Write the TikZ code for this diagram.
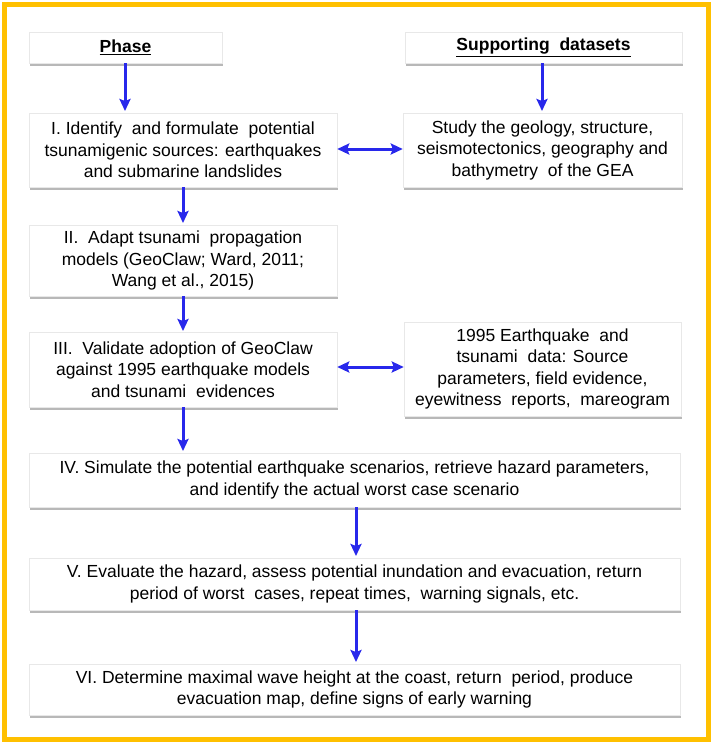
\documentclass[tikz,border=0pt]{standalone}
\usepackage{fontspec}
\setmainfont{Liberation Sans}
\usetikzlibrary{arrows.meta,shadows}
\definecolor{gold}{RGB}{255,192,0}
\definecolor{arrowblue}{RGB}{40,40,235}
\tikzset{
  box/.style={draw=gray!18, fill=white, line width=0.5pt, inner sep=0pt, align=center,
    font=\fontsize{17.5}{21.5}\selectfont,
    drop shadow={shadow xshift=1pt, shadow yshift=-2.5pt, fill=gray!70, opacity=0.8}},
  flow/.style={draw=arrowblue, line width=3pt, -{Stealth[length=12pt,width=11pt,inset=2pt]}},
  bflow/.style={draw=arrowblue, line width=3pt, {Stealth[length=12pt,width=11pt,inset=2pt]}-{Stealth[length=12pt,width=11pt,inset=2pt]}}
}
\begin{document}
\begin{tikzpicture}[x=1pt,y=-1pt]
\useasboundingbox (0,0) rectangle (713,745);
\draw[gold, line width=5pt] (4.5,4.5) rectangle (708,739);
\node[box, minimum width=193pt, minimum height=31pt] (phase) at (125.5,47.5) {\textbf{\underline{Phase}}};
\node[box, minimum width=277pt, minimum height=31pt] (supp) at (543.5,47.5) {\textbf{\underline{Supporting\ \ datasets}}};
\node[box, minimum width=308pt, minimum height=74pt] (p1) at (183,150) {I. Identify\ \ and formulate\ \ potential\\tsunamigenic sources: earthquakes\\and submarine landslides};
\node[box, minimum width=279pt, minimum height=74pt] (geo) at (542.5,150) {Study the geology, structure,\\seismotectonics, geography and\\bathymetry\ \ of the GEA};
\node[box, minimum width=308pt, minimum height=71pt] (p2) at (183,260.5) {II.\ \ Adapt tsunami\ \ propagation\\models (GeoClaw; Ward, 2011;\\Wang et al., 2015)};
\node[box, minimum width=308pt, minimum height=75pt] (p3) at (183,369.5) {III.\ \ Validate adoption of GeoClaw\\against 1995 earthquake models\\and tsunami\ \ evidences};
\node[box, minimum width=277pt, minimum height=94pt] (data) at (542.5,369) {1995 Earthquake\ \ and\\tsunami\ \ data: Source\\parameters, field evidence,\\eyewitness\ \ reports,\ \ mareogram};
\node[box, minimum width=651pt, minimum height=54pt] (p4) at (354.5,480) {IV. Simulate the potential earthquake scenarios, retrieve hazard parameters,\\and identify the actual worst case scenario};
\node[box, minimum width=651pt, minimum height=52pt] (p5) at (354.5,584) {V. Evaluate the hazard, assess potential inundation and evacuation, return\\period of worst\ \ cases, repeat times,\ \ warning signals, etc.};
\node[box, minimum width=651pt, minimum height=51pt] (p6) at (354.5,689.5) {VI. Determine maximal wave height at the coast, return\ \ period, produce\\evacuation map, define signs of early warning};
\coordinate (a1) at (125,111);
\coordinate (a2) at (542,111);
\coordinate (a3) at (183,223);
\coordinate (a4) at (183,331);
\coordinate (a5) at (183,451);
\coordinate (a6) at (356,556);
\coordinate (a7) at (356,662);
\draw[flow] (phase.south -| a1) -- (a1);
\draw[flow] (supp.south -| a2) -- (a2);
\draw[flow] (p1.south -| a3) -- (a3);
\draw[flow] (p2.south -| a4) -- (a4);
\draw[flow] (p3.south -| a5) -- (a5);
\draw[flow] (p4.south -| a6) -- (a6);
\draw[flow] (p5.south -| a7) -- (a7);
\coordinate (h1) at (0,149);
\coordinate (h2) at (0,367);
\draw[bflow] (p1.east |- h1) -- (geo.west |- h1);
\draw[bflow] (p3.east |- h2) -- (data.west |- h2);
\end{tikzpicture}
\end{document}
